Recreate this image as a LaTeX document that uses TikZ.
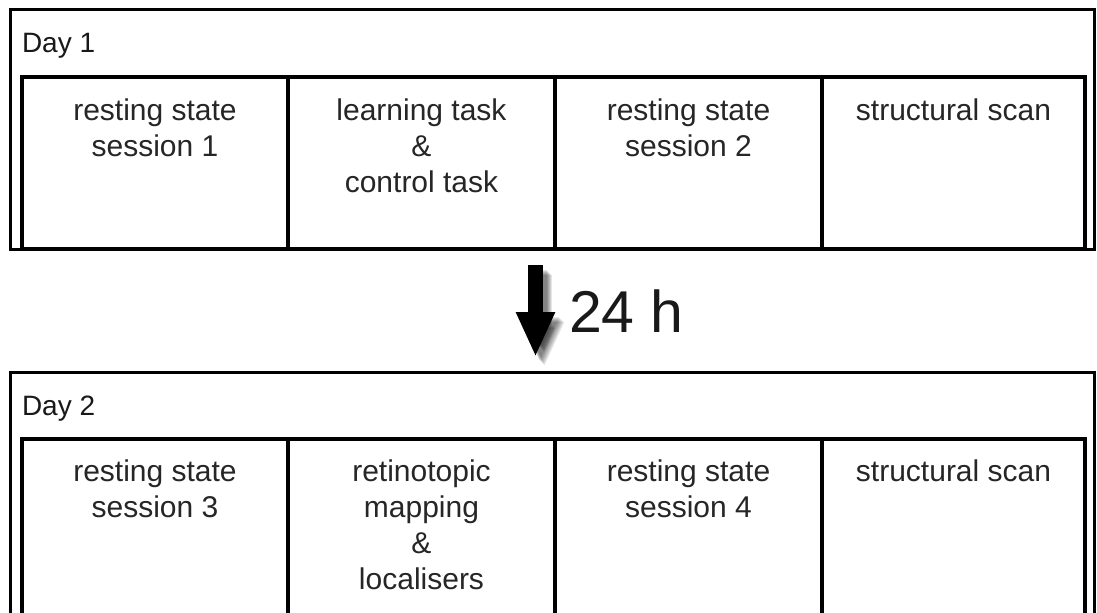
\documentclass[tikz,border=0pt]{standalone}
\usepackage{fontspec}
\setmainfont{Liberation Sans}
\usetikzlibrary{arrows.meta,positioning}

\begin{document}
\begin{tikzpicture}[x=0.5pt, y=-0.5pt, >={Triangle[length=22.5pt, width=18pt]},
    every node/.style={outer sep=0pt},
    dayframe/.style={draw, line width=1.5pt, anchor=north west, minimum width=542pt, inner sep=0pt},
    stagebox/.style={draw, line width=1.6pt, anchor=north west, inner sep=0pt},
    stagetext/.style={anchor=north, inner sep=0pt, align=center, text=black!85, font=\fontsize{15}{18}\selectfont},
    daylabel/.style={anchor=base west, inner sep=0pt, text=black!90, font=\fontsize{14}{16}\selectfont},
    delaylabel/.style={anchor=base west, inner sep=0pt, text=black!90, font=\fontsize{29.5}{32}\selectfont}]
  \clip (0,0) rectangle (1097,612);
  \fill[white] (0,0) rectangle (1097,612);

  % day 1
  \node[dayframe, minimum height=120pt] (day1) at (10,9) {};
  \node[daylabel] (day1lbl) at (22,52) {Day 1};
  \node[stagebox, minimum width=133pt, minimum height=86pt] (rest1) at (22,77) {};
  \node[stagebox, minimum width=133.5pt, minimum height=86pt, right=0pt of rest1] (learn) {};
  \node[stagebox, minimum width=133.5pt, minimum height=86pt, right=0pt of learn] (rest2) {};
  \node[stagebox, minimum width=131.5pt, minimum height=86pt, right=0pt of rest2] (struct1) {};
  \node[stagetext] (rest1txt) at ([yshift=-11pt]rest1.north) {resting state\\session 1};
  \node[stagetext] (learntxt) at ([yshift=-11pt]learn.north) {learning task\\\&\\control task};
  \node[stagetext] (rest2txt) at ([yshift=-11pt]rest2.north) {resting state\\session 2};
  \node[stagetext] (struct1txt) at ([yshift=-11pt]struct1.north) {structural scan};

  % 24 h arrow
  \coordinate (arrtop) at (535.5,265);
  \coordinate (arrtip) at (535.5,357);
  \foreach \s in {1,...,6}
    \draw[->, line width=7.5pt, black, opacity=0.1] ([shift={(\s+3,\s+4)}]arrtop) -- ([shift={(\s+3,\s+4)}]arrtip);
  \draw[->, line width=7.5pt, black] (arrtop) -- (arrtip);
  \node[delaylabel] (delay) at (569,332) {24 h};

  % day 2
  \node[dayframe, minimum height=130pt] (day2) at (10,372) {};
  \node[daylabel] (day2lbl) at (22,415) {Day 2};
  \node[stagebox, minimum width=133pt, minimum height=92pt] (rest3) at (22,439) {};
  \node[stagebox, minimum width=133.5pt, minimum height=92pt, right=0pt of rest3] (retino) {};
  \node[stagebox, minimum width=133.5pt, minimum height=92pt, right=0pt of retino] (rest4) {};
  \node[stagebox, minimum width=131.5pt, minimum height=92pt, right=0pt of rest4] (struct2) {};
  \node[stagetext] (rest3txt) at ([yshift=-10.5pt]rest3.north) {resting state\\session 3};
  \node[stagetext] (retinotxt) at ([yshift=-10.5pt]retino.north) {retinotopic\\mapping\\\&\\localisers};
  \node[stagetext] (rest4txt) at ([yshift=-10.5pt]rest4.north) {resting state\\session 4};
  \node[stagetext] (struct2txt) at ([yshift=-10.5pt]struct2.north) {structural scan};
\end{tikzpicture}
\end{document}
